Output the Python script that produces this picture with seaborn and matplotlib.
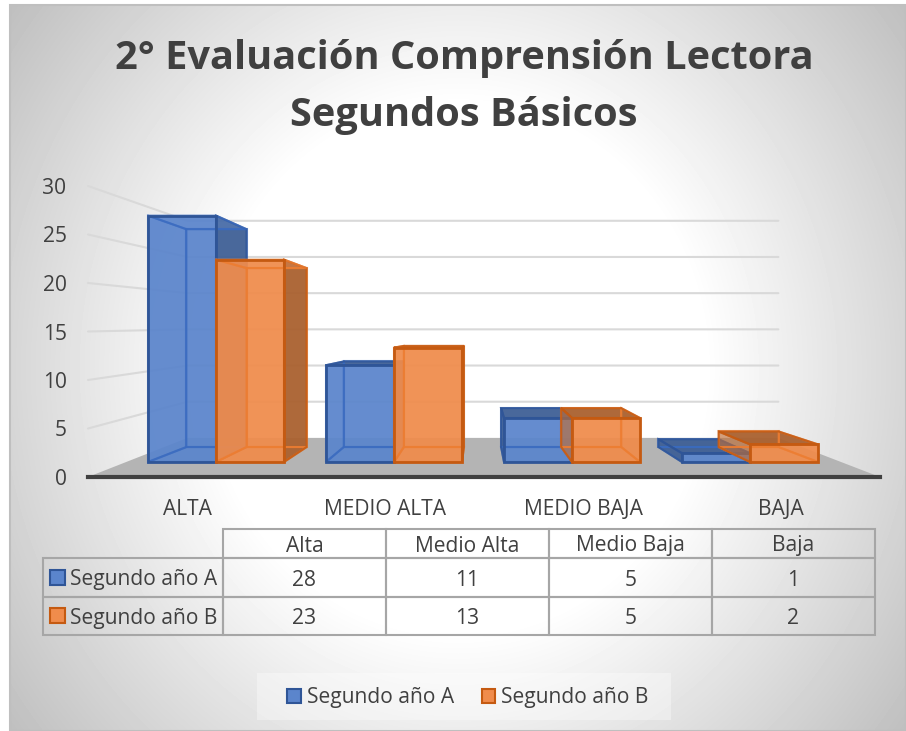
# Import necessary libraries
import numpy as np
import pandas as pd
import seaborn as sns
import matplotlib.pyplot as plt
from matplotlib.patches import Polygon, Rectangle, Patch

# Chart values
niveles_eje = ['ALTA', 'MEDIO ALTA', 'MEDIO BAJA', 'BAJA']
niveles_tabla = ['Alta', 'Medio Alta', 'Medio Baja', 'Baja']
series = ['Segundo año A', 'Segundo año B']
segundo_a = [28, 11, 5, 1]
segundo_b = [23, 13, 5, 2]
ticks_y = [0, 5, 10, 15, 20, 25, 30]

W, H = 906, 731
TEXTO = '#404040'
FUENTE = 15.1
AZUL, AZUL_BORDE, AZUL_OSCURO, AZUL_LINEA = '#5B85CC', '#2F5597', '#3F5F94', '#3A6BC0'
NARANJA, NARANJA_BORDE, NARANJA_OSCURO, NARANJA_LINEA = '#F08C4C', '#C55A11', '#A8602F', '#ED7D31'

sns.set_style('white')
plt.rcParams['font.family'] = ['Open Sans', 'DejaVu Sans']

df = pd.DataFrame({
    'nivel': niveles_tabla * 2,
    'serie': [series[0]] * 4 + [series[1]] * 4,
    'valor': segundo_a + segundo_b,
})

fig = plt.figure(figsize=(W / 100, H / 100), dpi=100, facecolor='white')

# Pixel overlay: background, floor, grid lines, title, table, legend
ov = fig.add_axes([0, 0, 1, 1], zorder=0)
ov.set_axis_off()
yy, xx = np.mgrid[0:726, 0:896]
d = np.sqrt(((xx - 448) / 448) ** 2 + ((yy - 363) / 480) ** 2)
fondo = 1 - 0.25 * np.clip((d - 0.55) / 0.7, 0, 1)
ov.imshow(fondo, cmap='gray', vmin=0, vmax=1, extent=(10, 906, 731, 5), aspect='auto')
ov.set_xlim(0, W)
ov.set_ylim(H, 0)
ov.add_patch(Rectangle((10, 5), 896, 726, fill=False, edgecolor='#BFBFBF', lw=1.5))


def caja(left, top, right, bottom):
    # axes position from pixel edges
    return [left / W, 1 - bottom / H, (right - left) / W, (bottom - top) / H]


# Front plane axis: tick labels, category labels and the zero line
wall = fig.add_axes(caja(88, 160, 880, 477), zorder=1, facecolor='none')
wall.set_xlim(-0.5, 3.5)
wall.set_ylim(0, (477 - 160) / 9.7)
wall.set_xticks(range(4), niveles_eje)
wall.set_yticks(ticks_y)
wall.tick_params(axis='x', length=0, pad=16, labelsize=FUENTE, labelcolor=TEXTO)
wall.tick_params(axis='y', length=0, pad=15.4, labelsize=FUENTE, labelcolor=TEXTO)
sns.despine(ax=wall, left=True, top=True, right=True)
wall.spines['bottom'].set_color(TEXTO)
wall.spines['bottom'].set_linewidth(3)

# Bars plane axis
ax = fig.add_axes(caja(88, 160, 880, 477), zorder=2, facecolor='none')
sns.barplot(data=df, x='nivel', y='valor', hue='serie', order=niveles_tabla,
            palette=[AZUL, NARANJA], width=0.764, gap=0, saturation=1,
            legend=False, ax=ax)
ax.set_xlim((88 - 216) / 178, (880 - 216) / 178)
ax.set_ylim(-15 / 8.8, (462 - 160) / 8.8)
ax.set_axis_off()


def a_pixel(axes, x, y):
    return ov.transData.inverted().transform(axes.transData.transform((x, y)))


def fondo_pt(p, vx, vy, f):
    # point pushed back towards the vanishing point
    return (vx + f * (p[0] - vx), vy + f * (p[1] - vy))


# Floor and grid lines of the walls
VX_P, VY_P, F_P = 480, 323, 0.746
piso = [a_pixel(wall, -0.5, 0), a_pixel(wall, 3.5, 0)]
ov.add_patch(Polygon([piso[0], piso[1], fondo_pt(piso[1], VX_P, VY_P, F_P),
                      fondo_pt(piso[0], VX_P, VY_P, F_P)], color='#B4B4B4', lw=0))
for t in ticks_y[1:]:
    a = a_pixel(wall, -0.5, t)
    b = fondo_pt(a, VX_P, VY_P, F_P)
    c = fondo_pt(a_pixel(wall, 3.5, t), VX_P, VY_P, F_P)
    ov.plot([a[0], b[0], c[0]], [a[1], b[1], c[1]], color='#D9D9D9', lw=1.5)

# Depth faces of every bar, from the bars drawn by seaborn
VX, VY, F = 479, 333, 0.884
barras = sorted(ax.patches, key=lambda r: r.get_x())
for k, r in enumerate(barras):
    es_azul = r.get_facecolor()[2] > r.get_facecolor()[0]
    claro = AZUL if es_azul else NARANJA
    oscuro = AZUL_OSCURO if es_azul else NARANJA_OSCURO
    borde = AZUL_BORDE if es_azul else NARANJA_BORDE
    linea = AZUL_LINEA if es_azul else NARANJA_LINEA
    x0, x1 = r.get_x(), r.get_x() + r.get_width()
    h = r.get_height()
    tl, tr = a_pixel(ax, x0, h), a_pixel(ax, x1, h)
    bl, br = a_pixel(ax, x0, 0), a_pixel(ax, x1, 0)
    tl2, tr2, bl2, br2 = [fondo_pt(p, VX, VY, F) for p in (tl, tr, bl, br)]
    z = 2 + k
    caras = [
        ([tl2, tr2, br2, bl2], False, 0.35),
        ([bl, br, br2, bl2], False, 0.35),
        ([tl, bl, bl2, tl2], tl[0] > VX, 0.92 if es_azul else 0.45),
        ([tr, br, br2, tr2], tr[0] < VX, 0.92),
        ([tl, tr, tr2, tl2], tl[1] > VY, 0.92),
    ]
    for pts, visible, alfa in caras:
        ax.add_patch(Polygon(pts, closed=True, transform=ov.transData, clip_on=False,
                             facecolor=oscuro if visible else claro,
                             alpha=alfa if visible else 0.35, lw=0, zorder=z))
        # inner edges show through the front face
        ax.add_patch(Polygon(pts, closed=True, transform=ov.transData, clip_on=False,
                             fill=False, edgecolor=borde if visible else linea,
                             alpha=0.85 if visible else 0.7, lw=1.5, zorder=z + 0.6))
    r.set_alpha(0.9)
    r.set_linewidth(0)
    r.set_zorder(z + 0.5)
    # dark outline of the front face on top of the inner edges
    ax.add_patch(Polygon([tl, tr, br, bl], closed=True, transform=ov.transData, clip_on=False,
                         fill=False, edgecolor=borde, lw=2, zorder=z + 0.7))

# Title
ov.text(464, 87, '2° Evaluación Comprensión Lectora\nSegundos Básicos', ha='center',
        va='center', fontsize=28.6, fontweight='bold', color=TEXTO, linespacing=1.6)

# Data table under the chart
filas = [[''] + niveles_tabla, [series[0]] + segundo_a, [series[1]] + segundo_b]
anchos = [180, 163, 163, 163, 163]
altos = [29, 39, 38]
tabla = ov.table(cellText=filas, cellLoc='center', colWidths=anchos,
                 bbox=[43 / W, 1 - 635 / H, 832 / W, 106 / H])
tabla.auto_set_font_size(False)
tabla.set_fontsize(FUENTE)
for (i, j), celda in tabla.get_celld().items():
    celda.set_height(altos[i])
    celda.set_facecolor('none')
    celda.set_edgecolor('#A6A6A6')
    celda.set_linewidth(1.5)
    celda.get_text().set_color(TEXTO)
    celda.get_text().set_verticalalignment('center_baseline')
    if j == 0 and i > 0:
        celda.PAD = 27 / 180
        celda.get_text().set_horizontalalignment('left')
tabla[0, 0].visible_edges = 'open'
ov.add_patch(Rectangle((50, 570), 15, 15, facecolor=AZUL, edgecolor=AZUL_BORDE, lw=1.5))
ov.add_patch(Rectangle((50, 608), 15, 15, facecolor=NARANJA, edgecolor=NARANJA_BORDE, lw=1.5))

# Legend at the bottom
ov.add_patch(Rectangle((257, 673), 414, 47, facecolor='white', alpha=0.35, lw=0))
manijas = [Patch(facecolor=AZUL, edgecolor=AZUL_BORDE, lw=1.5),
           Patch(facecolor=NARANJA, edgecolor=NARANJA_BORDE, lw=1.5)]
ov.legend(manijas, series, ncol=2, loc='center', bbox_to_anchor=(468 / W, 1 - 698 / H),
          frameon=False, fontsize=FUENTE, handlelength=0.65, handleheight=0.65,
          handletextpad=0.3, columnspacing=1.3, labelcolor=TEXTO)

fig.savefig('out.png', dpi=100)
